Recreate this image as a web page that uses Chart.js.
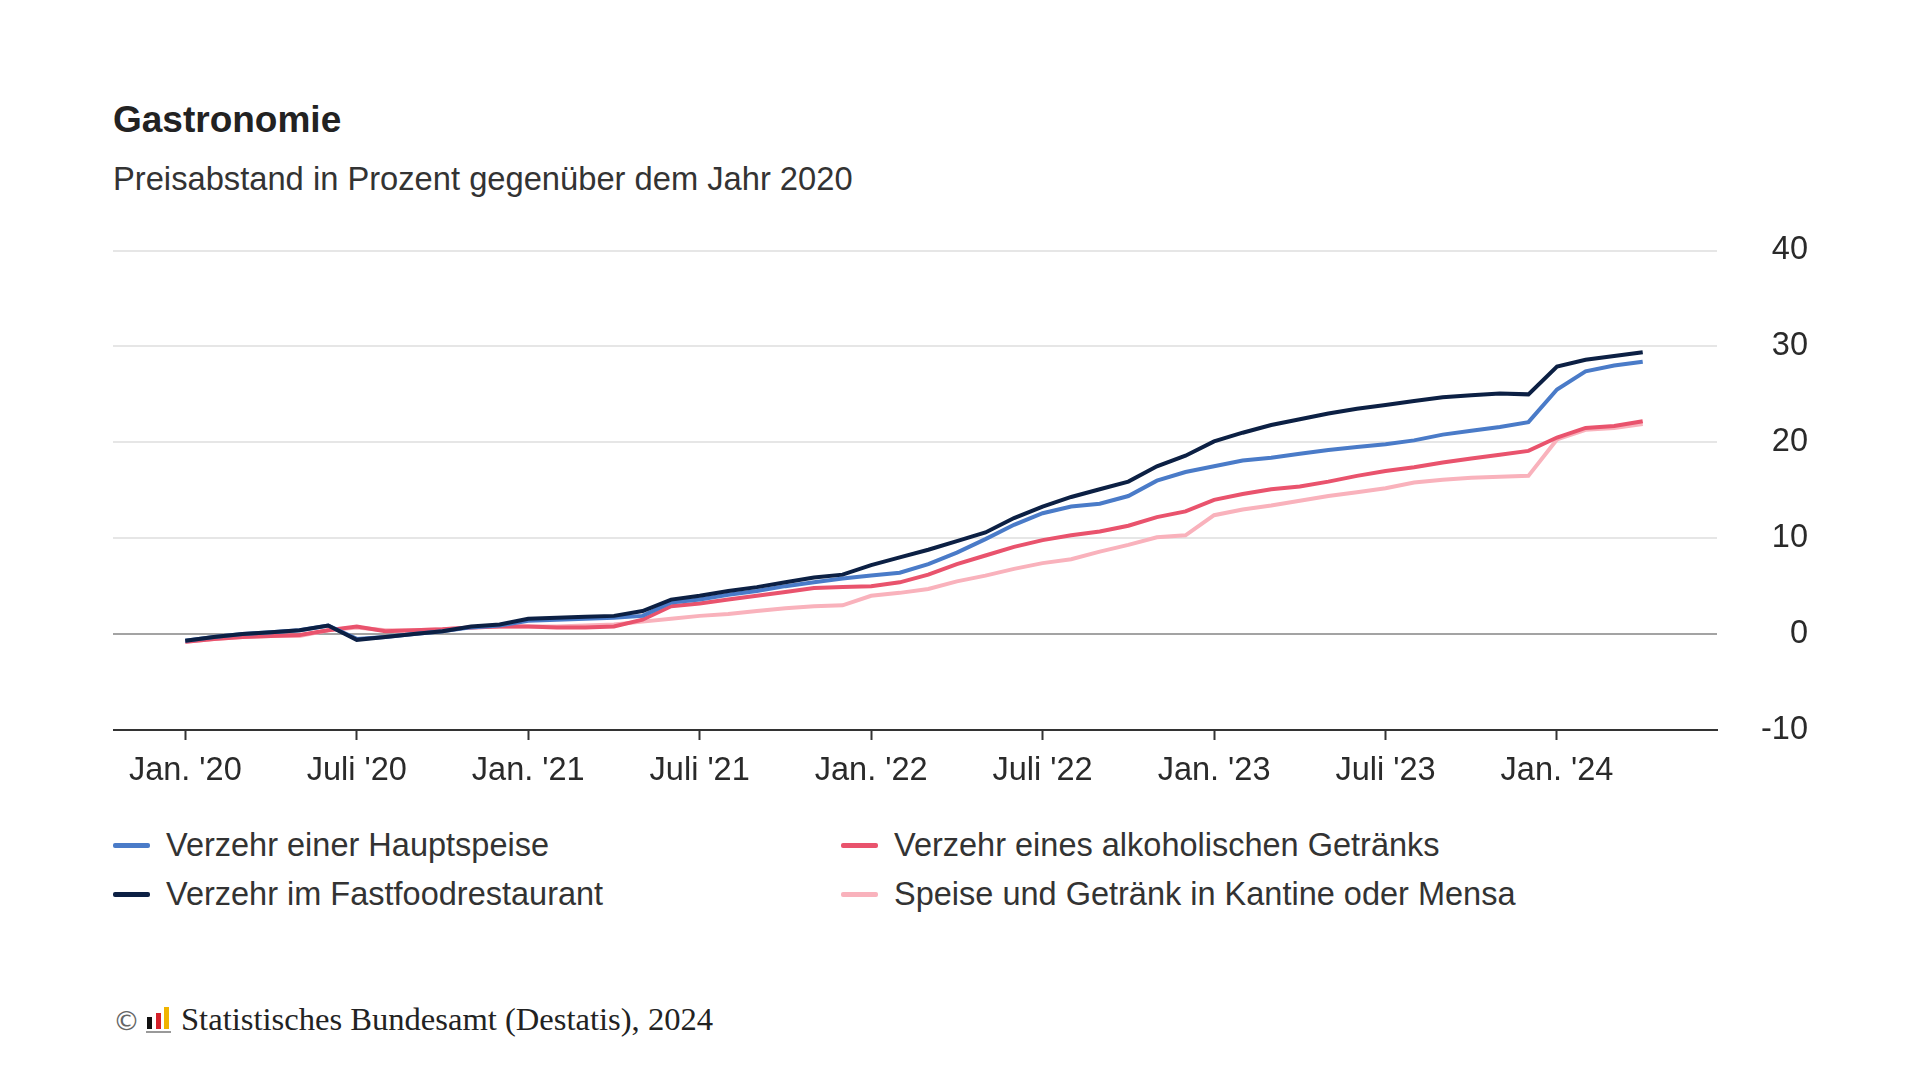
<!DOCTYPE html>
<html lang="de">
<head>
<meta charset="utf-8">
<title>Gastronomie</title>
<script src="https://cdn.jsdelivr.net/npm/chart.js@4.4.1/dist/chart.umd.min.js"></script>
<style>
    body { margin: 0; background: #fff; font-family: 'Liberation Sans', Arial, sans-serif; color: #222; }
    #page { position: relative; width: 1920px; height: 1080px; overflow: hidden; }
    .titel { position: absolute; left: 113px; top: 100px; font-size: 37px; font-weight: bold; color: #222; line-height: 40px; }
    .untertitel { position: absolute; left: 113px; top: 160px; font-size: 32.7px; color: #333; line-height: 38px; }
    #chart-box { position: absolute; left: 113px; top: 209px; width: 1695px; height: 594px; }
    .legende { position: absolute; font-size: 32.5px; color: #333; line-height: 36px; white-space: nowrap; }
    .legende .strich { position: absolute; left: 0; top: 16px; width: 37px; height: 5px; border-radius: 2px; }
    .legende span.txt { position: absolute; left: 53px; top: 0; }
    .quelle { position: absolute; left: 113px; top: 1000px; font-family: 'Liberation Serif', 'Times New Roman', serif; font-size: 32.6px; color: #222; line-height: 38px; white-space: nowrap; }
    .quelle .copy { color: #666; font-family: 'DejaVu Sans', sans-serif; font-size: 27px; }
    .logo { display: inline-block; position: relative; width: 25px; height: 26px; margin: 0 10px 0 6px; vertical-align: -3px; }
    .logo i { position: absolute; bottom: 4px; width: 5px; }
    .logo b { position: absolute; bottom: 0; left: 0; width: 25px; height: 2px; background: #999; }
</style>
</head>
<body>
<div id="page">
    <div class="titel">Gastronomie</div>
    <div class="untertitel">Preisabstand in Prozent gegenüber dem Jahr 2020</div>
    <div id="chart-box"><canvas id="gastro-chart"></canvas></div>
    <div id="legende"></div>
    <div class="quelle"><span class="copy">©</span><span class="logo"><i style="left:1px;height:12px;background:#111"></i><i style="left:10px;height:16px;background:#d4202a"></i><i style="left:18px;height:22px;background:#f0b400"></i><b></b></span>Statistisches Bundesamt (Destatis), 2024</div>
</div>
<script>
// Monate Jan. 2020 bis Apr. 2024
const monate = [
    '01/2020', '02/2020', '03/2020', '04/2020', '05/2020', '06/2020', '07/2020', '08/2020', '09/2020', '10/2020', '11/2020', '12/2020',
    '01/2021', '02/2021', '03/2021', '04/2021', '05/2021', '06/2021', '07/2021', '08/2021', '09/2021', '10/2021', '11/2021', '12/2021',
    '01/2022', '02/2022', '03/2022', '04/2022', '05/2022', '06/2022', '07/2022', '08/2022', '09/2022', '10/2022', '11/2022', '12/2022',
    '01/2023', '02/2023', '03/2023', '04/2023', '05/2023', '06/2023', '07/2023', '08/2023', '09/2023', '10/2023', '11/2023', '12/2023',
    '01/2024', '02/2024', '03/2024', '04/2024'
];

const hauptspeise = [
    -0.7, -0.3, 0.0, 0.2, 0.4, 0.9, -0.5, -0.3, 0.0, 0.3, 0.7, 0.9,
    1.4, 1.5, 1.6, 1.7, 1.9, 3.3, 3.6, 4.1, 4.5, 5.0, 5.4, 5.8,
    6.1, 6.4, 7.3, 8.5, 9.9, 11.4, 12.6, 13.3, 13.6, 14.4, 16.0, 16.9,
    17.5, 18.1, 18.4, 18.8, 19.2, 19.5, 19.8, 20.2, 20.8, 21.2, 21.6, 22.1,
    25.5, 27.4, 28.0, 28.4
];
const fastfood = [
    -0.7, -0.3, 0.0, 0.2, 0.4, 0.9, -0.6, -0.3, 0.0, 0.3, 0.8, 1.0,
    1.6, 1.7, 1.8, 1.9, 2.4, 3.6, 4.0, 4.5, 4.9, 5.4, 5.9, 6.2,
    7.2, 8.0, 8.8, 9.7, 10.6, 12.1, 13.3, 14.3, 15.1, 15.9, 17.5, 18.6,
    20.1, 21.0, 21.8, 22.4, 23.0, 23.5, 23.9, 24.3, 24.7, 24.9, 25.1, 25.0,
    27.9, 28.6, 29.0, 29.4
];
const alkohol = [
    -0.8, -0.5, -0.3, -0.2, -0.1, 0.4, 0.8, 0.3, 0.4, 0.5, 0.7, 0.8,
    0.8, 0.7, 0.7, 0.8, 1.5, 2.9, 3.2, 3.6, 4.0, 4.4, 4.8, 4.9,
    5.0, 5.4, 6.2, 7.3, 8.2, 9.1, 9.8, 10.3, 10.7, 11.3, 12.2, 12.8,
    14.0, 14.6, 15.1, 15.4, 15.9, 16.5, 17.0, 17.4, 17.9, 18.3, 18.7, 19.1,
    20.5, 21.5, 21.7, 22.2
];
const kantine = [
    -0.8, -0.5, -0.3, -0.2, -0.2, 0.4, 0.7, 0.4, 0.4, 0.5, 0.7, 0.8,
    0.8, 0.8, 0.9, 1.0, 1.3, 1.6, 1.9, 2.1, 2.4, 2.7, 2.9, 3.0,
    4.0, 4.3, 4.7, 5.5, 6.1, 6.8, 7.4, 7.8, 8.6, 9.3, 10.1, 10.3,
    12.4, 13.0, 13.4, 13.9, 14.4, 14.8, 15.2, 15.8, 16.1, 16.3, 16.4, 16.5,
    20.3, 21.3, 21.5, 21.9
];

// Achsenbeschriftung
const tickMonate = [0, 6, 12, 18, 24, 30, 36, 42, 48];
const tickLabels = ["Jan. '20", "Juli '20", "Jan. '21", "Juli '21", "Jan. '22", "Juli '22", "Jan. '23", "Juli '23", "Jan. '24"];
const yTicks = [-10, 0, 10, 20, 30, 40];

const serien = [
    { label: 'Verzehr einer Hauptspeise', data: hauptspeise, color: '#4a7bc8', order: 1 },
    { label: 'Verzehr im Fastfoodrestaurant', data: fastfood, color: '#0c2044', order: 0 },
    { label: 'Verzehr eines alkoholischen Getränks', data: alkohol, color: '#e9536d', order: 2 },
    { label: 'Speise und Getränk in Kantine oder Mensa', data: kantine, color: '#f9b2bc', order: 3 }
];

const schrift = { family: "'Liberation Sans', Arial, sans-serif", size: 32.5 };

const ctx = document.getElementById('gastro-chart').getContext('2d');
new Chart(ctx, {
    type: 'line',
    data: {
        datasets: serien.map(s => ({
            label: s.label,
            data: s.data.map((v, i) => ({ x: i, y: v })),
            borderColor: s.color,
            backgroundColor: s.color,
            borderWidth: 4,
            pointRadius: 0,
            tension: 0,
            order: s.order
        }))
    },
    options: {
        responsive: true,
        maintainAspectRatio: false,
        animation: false,
        layout: { padding: 0 },
        plugins: {
            legend: { display: false },
            tooltip: { enabled: false },
            title: { display: false }
        },
        scales: {
            x: {
                type: 'linear',
                min: -2.53,
                max: 53.6,
                afterBuildTicks: axis => { axis.ticks = tickMonate.map(v => ({ value: v })); },
                grid: { drawOnChartArea: false, drawTicks: true, tickLength: 10, tickColor: '#333', tickWidth: 2 },
                border: { display: true, color: '#333', width: 2 },
                ticks: {
                    autoSkip: false,
                    maxRotation: 0,
                    padding: 12,
                    color: '#2a2a2a',
                    font: schrift,
                    callback: v => tickLabels[tickMonate.indexOf(v)]
                }
            },
            y: {
                position: 'right',
                min: -10,
                max: 40,
                afterBuildTicks: axis => { axis.ticks = yTicks.map(v => ({ value: v })); },
                grid: {
                    drawTicks: false,
                    lineWidth: 2,
                    color: c => c.tick && c.tick.value === 0 ? '#a3a3a3' : '#e6e6e6'
                },
                border: { display: false },
                ticks: { padding: 22, crossAlign: 'far', color: '#2a2a2a', font: schrift }
            }
        }
    }
});

// Legende in zwei Spalten
const legende = document.getElementById('legende');
const legPos = [
    { left: 113, top: 827 }, { left: 113, top: 876 },
    { left: 841, top: 827 }, { left: 841, top: 876 }
];
serien.forEach((s, i) => {
    const el = document.createElement('div');
    el.className = 'legende';
    el.style.left = legPos[i].left + 'px';
    el.style.top = legPos[i].top + 'px';
    el.innerHTML = `<div class="strich" style="background:${s.color}"></div><span class="txt">${s.label}</span>`;
    legende.appendChild(el);
});
</script>
</body>
</html>
